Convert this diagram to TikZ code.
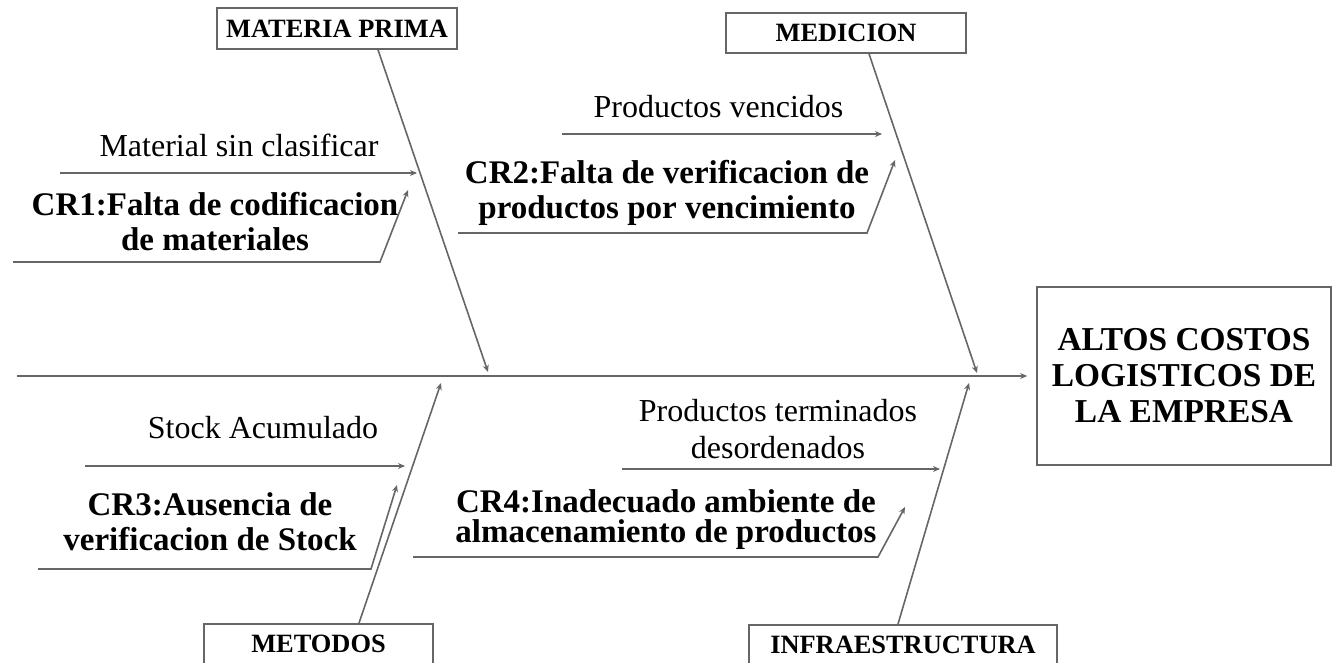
\documentclass[tikz,border=0pt]{standalone}
\usepackage{fontspec}
\setmainfont{Liberation Serif}
\usetikzlibrary{arrows.meta}

\tikzset{
  line/.style={draw=black!60, line width=0.8pt},
  bone/.style={line, -{Stealth[length=3.5pt,width=3pt]}},
  catbox/.style={line, font=\fontsize{13.2}{15}\selectfont\bfseries, inner sep=0pt},
  cause/.style={font=\fontsize{16}{18.5}\selectfont, align=center, inner sep=0pt},
  rootcause/.style={font=\fontsize{16.5}{17.5}\selectfont\bfseries, align=center, inner sep=0pt}
}

\begin{document}
\begin{tikzpicture}[x=0.5pt,y=-0.5pt]
  \useasboundingbox (0,0) rectangle (1332,663);
  \clip (0,0) rectangle (1332,663);

  % Effect and the four categories
  \node[catbox, font=\fontsize{16.7}{18}\selectfont\bfseries, align=center,
        minimum width=147pt, minimum height=89pt] (effect) at (1184,376)
        {ALTOS COSTOS\\LOGISTICOS DE\\LA EMPRESA};
  \node[catbox, minimum width=120pt, minimum height=20.5pt] (materia) at (337,28.5) {MATERIA PRIMA};
  \node[catbox, minimum width=120pt, minimum height=20pt] (medicion) at (846,33) {MEDICION};
  \node[catbox, minimum width=114.5pt, text height=14.4pt, text depth=20pt,
        anchor=north] (metodos) at (318.5,623) {METODOS};
  \node[catbox, minimum width=154pt, text height=14.4pt, text depth=20pt,
        anchor=north] (infra) at (903,624) {INFRAESTRUCTURA};

  % Spine
  \coordinate (tail) at (17,376);
  \draw[bone, shorten >=4.5pt] (tail) -- (effect.west);

  % Bones to the spine
  \coordinate (mp tip) at (488,372);
  \coordinate (med tip) at (977,373);
  \coordinate (met tip) at (441,383);
  \coordinate (inf tip) at (969,383);
  \draw[bone] ([xshift=20.5pt]materia.south) -- (mp tip);
  \draw[bone] ([xshift=11.5pt]medicion.south) -- (med tip);
  \draw[bone] ([xshift=20.25pt]metodos.north) -- (met tip);
  \draw[bone] ([xshift=-2.5pt]infra.north) -- (inf tip);

  % MATERIA PRIMA
  \coordinate (c1 start) at (60,173);  \coordinate (c1 tip) at (417,173);
  \draw[bone] (c1 start) -- (c1 tip);
  \node[cause, anchor=base] (c1) at (239,157) {Material sin clasificar};
  \coordinate (r1 start) at (13,262); \coordinate (r1 bend) at (380,262);
  \coordinate (r1 tip) at (408,190);
  \draw[bone] (r1 start) -- (r1 bend) -- (r1 tip);
  \node[rootcause] (r1) at (215,221.5) {CR1:Falta de codificacion\\de materiales};

  % MEDICION
  \coordinate (c2 start) at (562,134); \coordinate (c2 tip) at (882,134);
  \draw[bone] (c2 start) -- (c2 tip);
  \node[cause, anchor=base] (c2) at (718.5,118) {Productos vencidos};
  \coordinate (r2 start) at (458,233); \coordinate (r2 bend) at (867,233);
  \coordinate (r2 tip) at (895,160);
  \draw[bone] (r2 start) -- (r2 bend) -- (r2 tip);
  \node[rootcause] (r2) at (667,193) {CR2:Falta de verificacion de\\productos por vencimiento};

  % METODOS
  \coordinate (c3 start) at (85,466); \coordinate (c3 tip) at (405,466);
  \draw[bone] (c3 start) -- (c3 tip);
  \node[cause, anchor=base] (c3) at (263,438) {Stock Acumulado};
  \coordinate (r3 start) at (38,569); \coordinate (r3 bend) at (371,569);
  \coordinate (r3 tip) at (397,485);
  \draw[bone] (r3 start) -- (r3 bend) -- (r3 tip);
  \node[rootcause] (r3) at (210,522) {CR3:Ausencia de\\verificacion de Stock};

  % INFRAESTRUCTURA
  \coordinate (c4 start) at (622,469); \coordinate (c4 tip) at (940,469);
  \draw[bone] (c4 start) -- (c4 tip);
  \node[cause] (c4) at (778,429.5) {Productos terminados\\desordenados};
  \coordinate (r4 start) at (413,557); \coordinate (r4 bend) at (878,557);
  \coordinate (r4 tip) at (905,507);
  \draw[bone] (r4 start) -- (r4 bend) -- (r4 tip);
  \node[rootcause, font=\fontsize{16.5}{15}\selectfont\bfseries] (r4) at (666,519.5)
    {CR4:Inadecuado ambiente de\\almacenamiento de productos};
\end{tikzpicture}
\end{document}
